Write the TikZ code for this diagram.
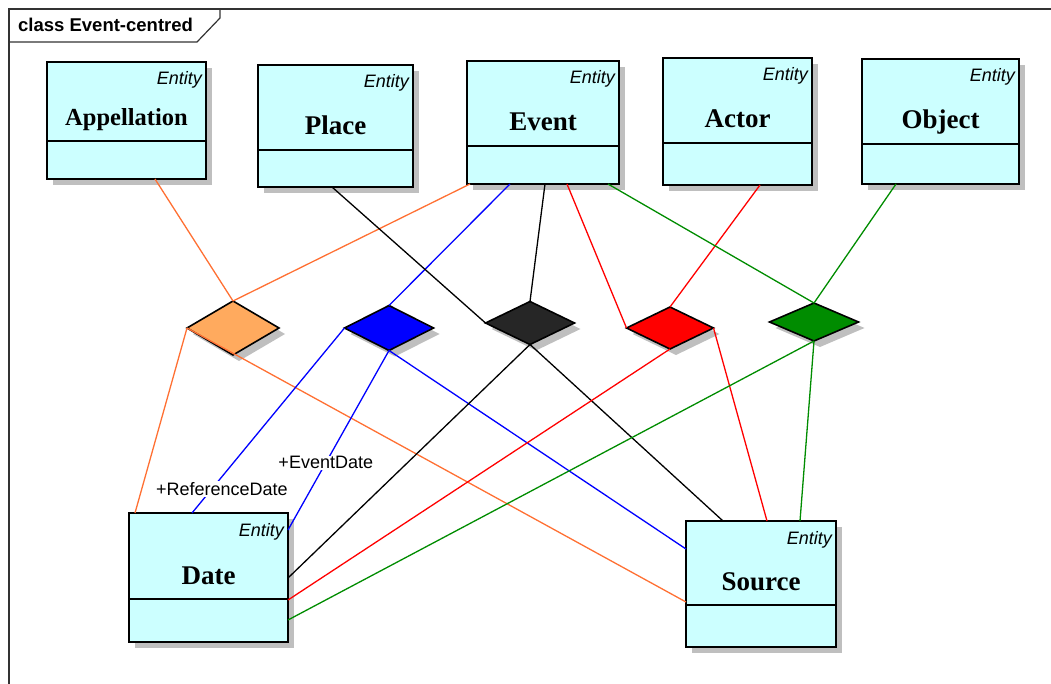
\documentclass[tikz,border=0pt]{standalone}
\usepackage{fontspec}
\setmainfont{Liberation Serif}
\setsansfont{Liberation Sans}
\usetikzlibrary{shapes.geometric,shadows}

\definecolor{entityfill}{HTML}{CCFFFF}
\definecolor{orangeline}{HTML}{FF7033}
\definecolor{orangefill}{HTML}{FFAA5E}
\definecolor{blueline}{HTML}{0000FF}
\definecolor{blackfill}{HTML}{262626}
\definecolor{redline}{HTML}{FF0000}
\definecolor{greenline}{HTML}{008C00}
\definecolor{framegray}{HTML}{333333}

\tikzset{
  boxshadow/.style={drop shadow={shadow xshift=6pt, shadow yshift=-6pt, fill=black!25, opacity=1}},
  entitybox/.style={draw, line width=1.6pt, fill=entityfill, inner sep=0pt, outer sep=0pt, boxshadow},
  boxline/.style={line width=1.6pt},
  stereo/.style={font=\sffamily\itshape\fontsize{18}{20}\selectfont, inner sep=0pt},
  classname/.style={font=\bfseries\fontsize{27}{30}\selectfont, inner sep=0pt},
  relation/.style={diamond, draw, line width=1.6pt, inner sep=0pt, outer sep=0pt, boxshadow},
  link/.style={line width=1.3pt},
  rolelabel/.style={font=\sffamily\fontsize{18}{20}\selectfont, fill=white, inner sep=1pt},
  frameline/.style={draw=framegray, line width=1.2pt},
  frametitle/.style={font=\sffamily\bfseries\fontsize{18.5}{20}\selectfont, inner sep=0pt}
}

% name, x, y, width, height, compartment height, title
\newcommand{\umlentity}[7]{%
  \node[entitybox, minimum width=#4pt, minimum height=#5pt] (#1) at (#2,#3) {};
  \draw[boxline] ([yshift=#6pt]#1.south west) -- ([yshift=#6pt]#1.south east);
  \node[stereo, anchor=base east] (#1-stereo) at ([xshift=-4pt,yshift=-23pt]#1.north east) {Entity};
  \node[classname, anchor=base] (#1-name) at ([yshift=#6pt+15pt]#1.south) {#7};
}

\begin{document}
\begin{tikzpicture}[x=1pt,y=-1pt]
\useasboundingbox (0,0) rectangle (1051,684);

% frame
\draw[frameline] (9,684) -- (9,9) -- (1051,9);
\draw[frameline] (9,42) -- (197,42) -- (220,18) -- (220,9);
\node[frametitle, anchor=base west] (title) at (18,32) {class Event-centred};

% entities
\umlentity{appellation}{126.5}{120.5}{159}{117}{38}{\fontsize{24.5}{28}\selectfont Appellation}
\umlentity{place}{335.5}{126}{155}{122}{37}{Place}
\umlentity{event}{543}{122.5}{152}{123}{38}{Event}
\umlentity{actor}{737.5}{121.5}{149}{127}{42}{Actor}
\umlentity{object}{940.5}{121.5}{157}{125}{40}{Object}
\umlentity{date}{208.5}{577.5}{159}{129}{43}{Date}
\umlentity{source}{761}{584}{150}{126}{42}{Source}

% n-ary associations
\node[relation, fill=orangefill, minimum width=92pt, minimum height=54pt] (orangerel) at (233,328) {};
\node[relation, fill=blueline, minimum width=89pt, minimum height=45pt] (bluerel) at (389,328) {};
\node[relation, fill=blackfill, minimum width=89pt, minimum height=43pt] (blackrel) at (530,323) {};
\node[relation, fill=redline, minimum width=87pt, minimum height=42pt] (redrel) at (670,328) {};
\node[relation, fill=greenline, minimum width=89pt, minimum height=38pt] (greenrel) at (814,322) {};

% orange
\draw[link, orangeline] (orangerel.north) -- ([xshift=108pt]appellation.south west);
\draw[link, orangeline] (orangerel.north) -- ([xshift=3pt]event.south west);
\draw[link, orangeline] (orangerel.west) -- ([xshift=6pt]date.north west);
\draw[link, orangeline] (orangerel.west) -- ([yshift=45pt]source.south west);
% blue
\draw[link, blueline] (bluerel.north) -- ([xshift=43pt]event.south west);
\draw[link, blueline] (bluerel.west) -- node[rolelabel, pos=0.87, xshift=10pt, text=black] (refdate) {+ReferenceDate} ([xshift=63pt]date.north west);
\draw[link, blueline] (bluerel.south) -- node[rolelabel, pos=0.626, text=black] (evdate) {+EventDate} ([yshift=-17pt]date.north east);
\draw[link, blueline] (bluerel.south) -- ([yshift=-28pt]source.north west);
% black
\draw[link] (blackrel.north) -- ([xshift=78pt]event.south west);
\draw[link] ([xshift=74pt]place.south west) -- (blackrel.west);
\draw[link] (blackrel.south) -- ([yshift=64pt]date.south east);
\draw[link] (blackrel.south) -- ([xshift=37pt]source.north west);
% red
\draw[link, redline] (redrel.north) -- ([xshift=97pt]actor.south west);
\draw[link, redline] (redrel.west) -- ([xshift=100pt]event.south west);
\draw[link, redline] (redrel.south) -- ([yshift=42pt]date.south east);
\draw[link, redline] (redrel.east) -- ([xshift=81pt]source.north west);
% green
\draw[link, greenline] (greenrel.north) -- ([xshift=34pt]object.south west);
\draw[link, greenline] (greenrel.north) -- ([xshift=141pt]event.south west);
\draw[link, greenline] (greenrel.south) -- ([yshift=22pt]date.south east);
\draw[link, greenline] (greenrel.south) -- ([xshift=114pt]source.north west);
\end{tikzpicture}
\end{document}
